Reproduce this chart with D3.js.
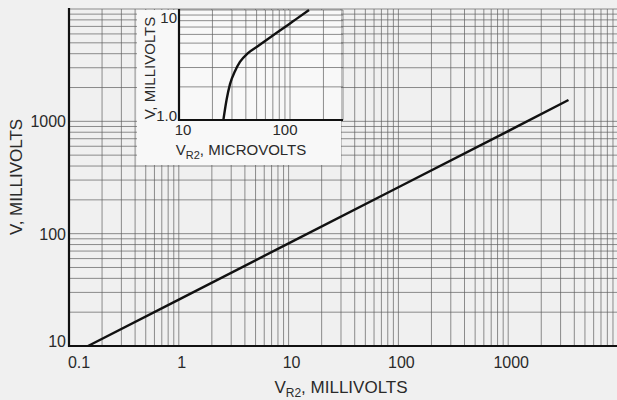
<!DOCTYPE html>
<html>
<head>
<meta charset="utf-8">
<script src="https://cdn.jsdelivr.net/npm/d3@7"></script>
<style>
  body { margin: 0; background: #f0f0f0; }
  svg { display: block; }
  text { font-family: "Liberation Sans", Arial, sans-serif; fill: #2a2a2a; }
</style>
</head>
<body>
<svg id="chart" width="617" height="400"></svg>
<script>
// main curve, V vs VR2 (both millivolts)
const mainVr2 = [0.149, 1, 10, 100, 1000, 3540];
const mainV = [10, 25.9, 82, 259, 819, 1550];

// inset curve, V (mV) vs VR2 (microvolts)
const insetVr2 = [25.1, 26.8, 28.8, 32.0, 35.4, 41.8, 50.4, 76.4, 106.4, 148.3];
const insetV = [1, 1.52, 2.12, 2.79, 3.37, 4.06, 4.64, 6.23, 7.89, 10];

// tick labels
const mainXTicks = [0.1, 1, 10, 100, 1000];
const mainXLabels = ["0.1", "1", "10", "100", "1000"];
const mainYTicks = [10, 100, 1000];
const mainYLabels = ["10", "100", "1000"];
const insetXTicks = [10, 100];
const insetXLabels = ["10", "100"];
const insetYTicks = [1, 10];
const insetYLabels = ["1.0", "10"];

const svg = d3.select("#chart");

// main plot area (named so they don't clash with window.top)
let pLeft = 69, pRight = 618, pTop = 9, pBottom = 346;

let x = d3.scaleLog().domain([0.1, 10000]).range([pLeft, pRight]);
let y = d3.scaleLog().domain([10, 10000]).range([pBottom, pTop]);

let grid = svg.append("g").attr("stroke", "#5e5e5e").attr("stroke-width", 0.7);

// vertical grid lines, 1..9 per decade
grid.selectAll(".vx").data(x.ticks()).enter().append("line")
  .attr("x1", d => x(d)).attr("x2", d => x(d))
  .attr("y1", pTop).attr("y2", pBottom);

// horizontal grid lines
grid.selectAll(".hy").data(y.ticks()).enter().append("line")
  .attr("x1", pLeft).attr("x2", pRight)
  .attr("y1", d => y(d)).attr("y2", d => y(d));

// heavy axes
svg.append("line").attr("x1", pLeft).attr("x2", pLeft).attr("y1", pTop - 1).attr("y2", pBottom + 1)
  .attr("stroke", "#111").attr("stroke-width", 2.2);
svg.append("line").attr("x1", pLeft - 1).attr("x2", pRight).attr("y1", pBottom).attr("y2", pBottom)
  .attr("stroke", "#111").attr("stroke-width", 2.2);

// main curve
let line = d3.line().x(d => x(d[0])).y(d => y(d[1]));
svg.append("path")
  .datum(mainVr2.map((v, i) => [v, mainV[i]]))
  .attr("d", line)
  .attr("fill", "none")
  .attr("stroke", "#111")
  .attr("stroke-width", 2.4);

// tick labels
svg.selectAll(".xl").data(mainXTicks).enter().append("text")
  .attr("x", (d, i) => i == 0 ? x(d) + 10 : x(d) + 3)
  .attr("y", 368)
  .attr("text-anchor", "middle")
  .style("font-size", "16px")
  .text((d, i) => mainXLabels[i]);

svg.selectAll(".yl").data(mainYTicks).enter().append("text")
  .attr("x", pLeft - 3)
  .attr("y", (d, i) => i == 0 ? y(d) + 1 : y(d) + 6)
  .attr("text-anchor", "end")
  .style("font-size", "16px")
  .text((d, i) => mainYLabels[i]);

// axis titles
let xt = svg.append("text")
  .attr("x", 341).attr("y", 393)
  .attr("text-anchor", "middle")
  .style("font-size", "17px");
xt.append("tspan").text("V");
xt.append("tspan").attr("dy", 4).style("font-size", "12px").text("R2");
xt.append("tspan").attr("dy", -4).text(", MILLIVOLTS");

svg.append("text")
  .attr("transform", "translate(22,177) rotate(-90)")
  .attr("text-anchor", "middle")
  .style("font-size", "17px")
  .text("V, MILLIVOLTS");

// ---- inset ----
let iLeft = 179, iTop = 10, iBottom = 120;

let xi = d3.scaleLog().domain([10, 300]).range([iLeft, iLeft + 164]);
let yi = d3.scaleLog().domain([1, 10]).range([iBottom, iTop]);

// white panel behind the inset
svg.append("rect")
  .attr("x", 137).attr("y", 10)
  .attr("width", 204).attr("height", 155)
  .attr("fill", "#f8f8f8");

let igrid = svg.append("g").attr("stroke", "#5e5e5e").attr("stroke-width", 0.7);
igrid.selectAll(".ivx").data(xi.ticks()).enter().append("line")
  .attr("x1", d => xi(d)).attr("x2", d => xi(d))
  .attr("y1", iTop).attr("y2", iBottom);
igrid.selectAll(".ihy").data(yi.ticks()).enter().append("line")
  .attr("x1", iLeft).attr("x2", xi(300))
  .attr("y1", d => yi(d)).attr("y2", d => yi(d));

svg.append("line").attr("x1", iLeft).attr("x2", iLeft).attr("y1", iTop - 1).attr("y2", iBottom + 1)
  .attr("stroke", "#111").attr("stroke-width", 2.2);
svg.append("line").attr("x1", iLeft - 1).attr("x2", xi(300)).attr("y1", iBottom).attr("y2", iBottom)
  .attr("stroke", "#111").attr("stroke-width", 2.2);

let iline = d3.line().x(d => xi(d[0])).y(d => yi(d[1])).curve(d3.curveMonotoneX);
svg.append("path")
  .datum(insetVr2.map((v, i) => [v, insetV[i]]))
  .attr("d", iline)
  .attr("fill", "none")
  .attr("stroke", "#111")
  .attr("stroke-width", 2.4);

svg.selectAll(".ixl").data(insetXTicks).enter().append("text")
  .attr("x", d => xi(d) + (d == 10 ? 4 : -5))
  .attr("y", 135)
  .attr("text-anchor", "middle")
  .style("font-size", "15px")
  .text((d, i) => insetXLabels[i]);

svg.selectAll(".iyl").data(insetYTicks).enter().append("text")
  .attr("x", iLeft - 2)
  .attr("y", d => d == 1 ? yi(d) + 1 : yi(d) + 13)
  .attr("text-anchor", "end")
  .style("font-size", "15px")
  .text((d, i) => insetYLabels[i]);

let ixt = svg.append("text")
  .attr("x", 241).attr("y", 155)
  .attr("text-anchor", "middle")
  .style("font-size", "15px");
ixt.append("tspan").text("V");
ixt.append("tspan").attr("dy", 4).style("font-size", "11px").text("R2");
ixt.append("tspan").attr("dy", -4).text(", MICROVOLTS");

svg.append("text")
  .attr("transform", "translate(155,68) rotate(-90)")
  .attr("text-anchor", "middle")
  .style("font-size", "15px")
  .text("V, MILLIVOLTS");
</script>
</body>
</html>
